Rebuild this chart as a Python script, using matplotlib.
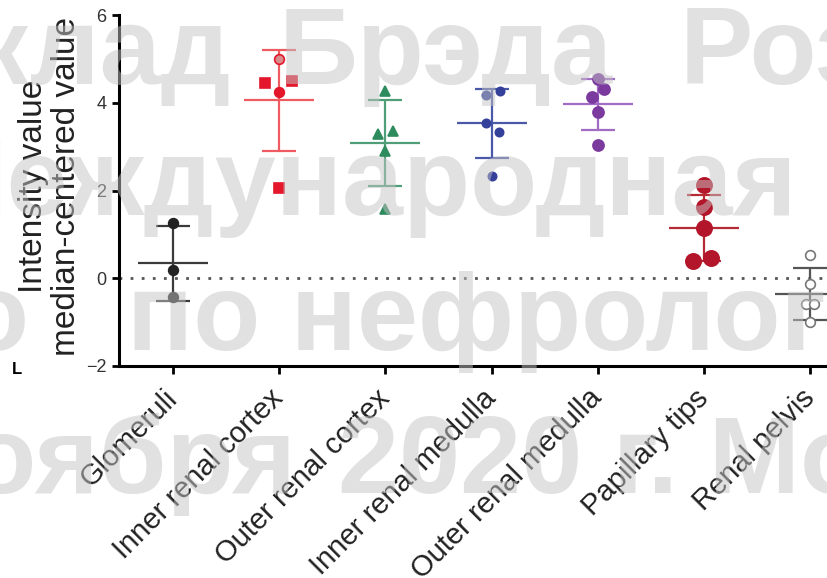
import numpy as np
import matplotlib
matplotlib.use('Agg')
import matplotlib.pyplot as plt
from matplotlib.transforms import ScaledTranslation

plt.rcParams['font.family'] = ['Liberation Sans', 'DejaVu Sans']

# data
categories = ['Glomeruli', 'Inner renal cortex', 'Outer renal cortex',
              'Inner renal medulla', 'Outer renal medulla', 'Papillary tips',
              'Renal pelvis']
glomeruli = [1.26, 0.18, -0.43]
inner_cortex = [5.0, 4.46, 4.50, 4.25, 2.06]
outer_cortex = [4.27, 3.29, 3.36, 2.90, 1.58]
inner_medulla = [4.27, 4.18, 3.54, 3.34, 2.33]
outer_medulla = [4.53, 4.32, 4.14, 3.79, 3.04]
papillary_tips = [2.13, 1.62, 1.14, 0.39, 0.46]
renal_pelvis = [0.53, -0.14, -0.59, -0.59, -1.0]

groups = [glomeruli, inner_cortex, outer_cortex, inner_medulla,
          outer_medulla, papillary_tips, renal_pelvis]

# small horizontal spread of the dots (layout only)
jitter = [
    [0, 0, 0],
    [0, -0.13, 0.12, 0, 0],
    [0, -0.07, 0.07, 0, 0],
    [0.08, -0.05, -0.05, 0.07, 0],
    [0, 0.06, -0.05, 0, 0],
    [0, 0, 0, -0.1, 0.07],
    [0, 0, -0.04, 0.04, 0],
]
marker_col = ['#222222', '#e3162b', '#2e8b5e', '#34409a', '#7b3a9e', '#b3152a', '#777777']
line_col = ['#3a3a3a', '#ee5c62', '#4f9e78', '#4a58a8', '#a36cc4', '#b52a35', '#555555']
markers = [['o'] * 3,
           ['o', 's', 's', 'o', 's'],
           ['^'] * 5,
           ['o'] * 5,
           ['o'] * 5,
           ['o'] * 5,
           ['o'] * 5]
msize = [7, 7, 7, 6, 8, 11, 7]

W, H = 828, 578
fig = plt.figure(figsize=(W / 100, H / 100), dpi=100)
ax = fig.add_axes([119 / W, 1 - 366 / H, 1 - 119 / W, (366 - 15) / H])

ax.axhline(0, color='#555555', lw=2, ls=(0, (1, 3)), zorder=1)

for i, vals in enumerate(groups):
    vals = np.array(vals)
    m = vals.mean()
    sd = vals.std(ddof=1)
    ax.errorbar(i, m, yerr=sd, fmt='none', ecolor=line_col[i], elinewidth=1.6,
                capsize=12.5, capthick=1.6, zorder=2)
    ax.hlines(m, i - 0.33, i + 0.33, color=line_col[i], lw=1.6, zorder=2)
    for v, dx, mk in zip(vals, jitter[i], markers[i]):
        face = 'white' if i == 6 else marker_col[i]
        if i == 1 and v == 5.0:
            face = '#d98a8a'
        ax.plot(i + dx, v, marker=mk, ms=msize[i], mfc=face,
                mec=marker_col[i], mew=1.2, ls='none', zorder=3)

ax.set_xlim(-0.51, 6.17)
ax.set_ylim(-2, 6)
ax.set_yticks([-2, 0, 2, 4, 6])
ax.set_yticklabels(['\u22122', '0', '2', '4', '6'])
ax.set_xticks(range(len(categories)))
ax.set_xticklabels(categories, rotation=45, ha='right', va='center',
                   rotation_mode='anchor', fontsize=21, color='#222222')
for lab in ax.get_xticklabels():
    lab.set_transform(lab.get_transform() + ScaledTranslation(0.05, 0, fig.dpi_scale_trans))

for s in ['top', 'right']:
    ax.spines[s].set_visible(False)
for s in ['left', 'bottom']:
    ax.spines[s].set_linewidth(2.2)
ax.tick_params(axis='y', length=5, width=2, pad=4, labelsize=13, labelcolor='#333333')
ax.tick_params(axis='x', length=6, width=2, pad=14)

fig.text(50 / W, 1 - 186 / H, 'Intensity value\nmedian-centered value',
         rotation=90, ha='center', va='center', multialignment='center',
         fontsize=24, color='#222222', linespacing=1.05)

fig.text(12 / W, 1 - 374 / H, 'L', fontsize=12, fontweight='bold', color='black')

# watermark over the figure
wm = dict(fontsize=79, fontweight='bold', color='#c4c4c4', alpha=0.5,
          va='baseline', zorder=10)


def px(x, y):
    return x / W, 1 - y / H


fig.text(*px(230, 84), 'Доклад', ha='right', **wm)
fig.text(*px(613, 84), 'Брэда', ha='right', **wm)
fig.text(*px(680, 84), 'Розена', ha='left', **wm)
fig.text(*px(797, 215), 'Международная', ha='right', **wm)
fig.text(*px(29, 350), 'о', ha='right', **wm)
fig.text(*px(127, 350), 'по нефрологии', ha='left', **wm)
fig.text(*px(296, 493), 'ноября', ha='right', **wm)
fig.text(*px(338, 493), '2020 г. Москва', ha='left', **wm)

fig.savefig('out.png', dpi=100)
